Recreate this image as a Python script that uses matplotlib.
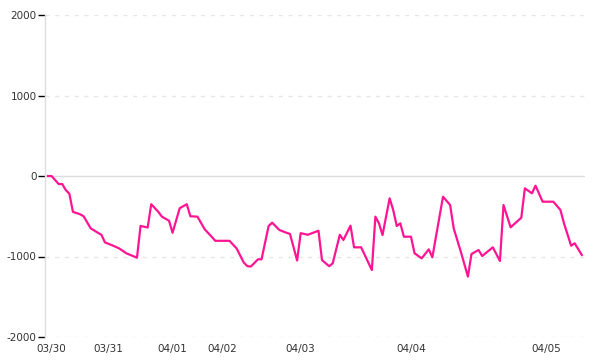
import matplotlib
matplotlib.use('Agg')
import matplotlib.pyplot as plt

# Sample index (category position) and value of each point
sample_idx = [0, 1, 3, 4, 5, 6, 7, 9, 10, 12, 14, 15, 16, 18, 20, 22, 25, 26, 27, 28,
              29, 31, 32, 34, 35, 37, 39, 40, 42, 44, 46, 47, 51, 53, 55, 56, 57, 59, 60, 62,
              63, 65, 67, 68, 70, 71, 73, 76, 77, 79, 80, 82, 83, 85, 86, 88, 91, 92, 93, 94,
              96, 97, 98, 99, 100, 102, 103, 105, 107, 108, 111, 113, 114, 116, 118, 119, 121, 122, 125, 127,
              128, 130, 133, 134, 136, 137, 139, 142, 144, 145, 147, 148, 150]
values = [0, 0, -100, -100, -175, -220, -445, -475, -500, -650, -705, -730, -825, -860, -900, -960, -1015, -620, -630, -640,
          -350, -445, -505, -555, -705, -400, -350, -500, -505, -660, -755, -805, -805, -900, -1075, -1120, -1125, -1035, -1035, -620,
          -580, -670, -705, -720, -1050, -710, -730, -680, -1045, -1120, -1085, -730, -795, -617, -886, -886, -1168, -505, -588, -733,
          -277, -422, -621, -588, -754, -754, -960, -1023, -911, -1010, -257, -360, -650, -940, -1250, -969, -919, -994, -886, -1056,
          -360, -637, -518, -153, -215, -120, -319, -319, -422, -588, -866, -836, -981]

tick_idx = [1, 17, 35, 49, 71, 102, 140]
tick_labels = ['03/30', '03/31', '04/01', '04/02', '04/03', '04/04', '04/05']
y_ticks = [-2000, -1000, 0, 1000, 2000]

fig = plt.figure(figsize=(6, 3.6), dpi=100)
ax = fig.add_axes([0.075, 0.064, 0.9, 0.894])

# grid and zero line
for yv in y_ticks:
    if yv == 0:
        ax.axhline(yv, color='#dddddd', lw=1, zorder=1)
    else:
        ax.axhline(yv, color='#e6e6e6', lw=1, ls=(0, (3, 4)), zorder=1)

ax.plot(sample_idx, values, color='#ff1493', lw=1.6, zorder=3)

ax.set_xlim(-0.85, 150.9)
ax.set_ylim(-2000, 2000)

for s in ['top', 'right', 'bottom']:
    ax.spines[s].set_visible(False)
ax.spines['left'].set_color('#dddddd')
ax.spines['left'].set_linewidth(1)

ax.set_yticks(y_ticks)
ax.set_yticklabels([str(v) for v in y_ticks])
ax.tick_params(axis='y', length=5, width=1, color='#000000', pad=1,
               labelsize=7.5, labelcolor='#333333')
ax.set_xticks(tick_idx)
ax.set_xticklabels(tick_labels)
ax.tick_params(axis='x', length=0, pad=5, labelsize=7.5, labelcolor='#333333')

fig.savefig('out.png', dpi=100)
